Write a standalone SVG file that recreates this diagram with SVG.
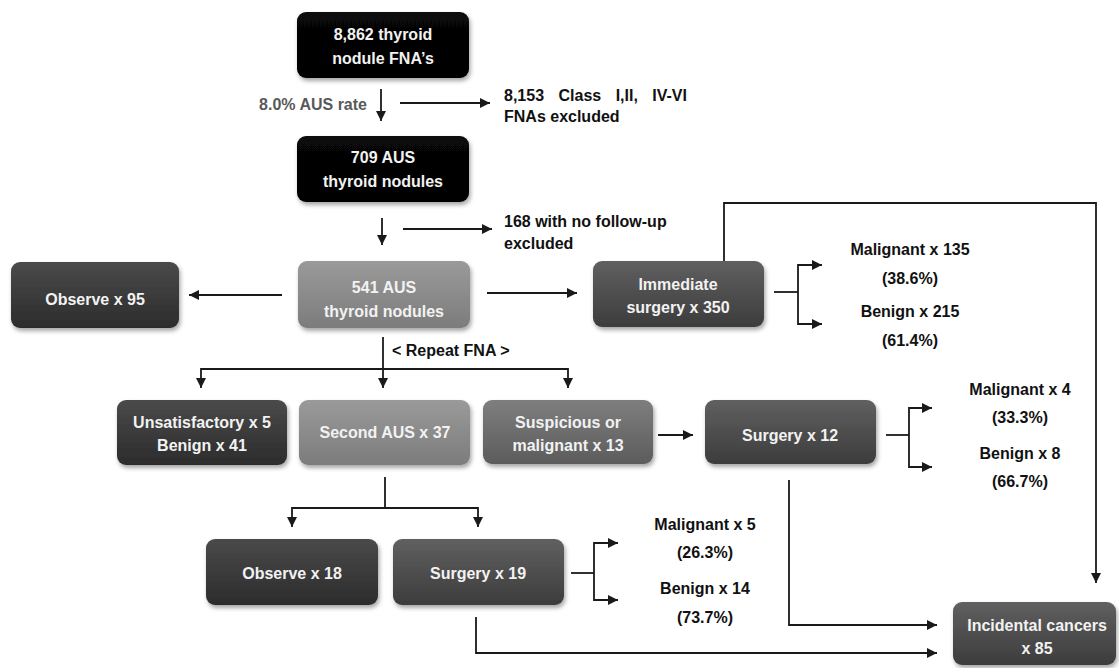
<svg xmlns="http://www.w3.org/2000/svg" width="1119" height="668" viewBox="0 0 1119 668">
<defs>
<style>
.bx{filter:url(#sh)}
.t{font-family:"Liberation Sans",Arial,sans-serif;font-weight:bold;font-size:16px;text-anchor:middle}
.w{fill:#f2f2f2}
.k{fill:#111}
.l{text-anchor:start}
.c{fill:none;stroke:#1a1a1a;stroke-width:1.8}
.a{marker-end:url(#ah)}
</style>
<filter id="sh" x="-10%" y="-10%" width="130%" height="140%">
<feDropShadow dx="1.5" dy="3" stdDeviation="2" flood-color="#000" flood-opacity="0.35"/>
</filter>
<marker id="ah" markerUnits="userSpaceOnUse" markerWidth="11" markerHeight="11" refX="10" refY="5" orient="auto">
<path d="M0,0 L10,5 L0,10 z" fill="#1a1a1a"/>
</marker>
<linearGradient id="gBlack" x1="0" y1="0" x2="0" y2="1"><stop offset="0" stop-color="#080808"/><stop offset="1" stop-color="#000"/></linearGradient>
<linearGradient id="gDark" x1="0" y1="0" x2="0" y2="1"><stop offset="0" stop-color="#4a4a4a"/><stop offset="1" stop-color="#2c2c2c"/></linearGradient>
<linearGradient id="gMid" x1="0" y1="0" x2="0" y2="1"><stop offset="0" stop-color="#606060"/><stop offset="1" stop-color="#3c3c3c"/></linearGradient>
<linearGradient id="gMed" x1="0" y1="0" x2="0" y2="1"><stop offset="0" stop-color="#7e7e7e"/><stop offset="1" stop-color="#5c5c5c"/></linearGradient>
<linearGradient id="gLight" x1="0" y1="0" x2="0" y2="1"><stop offset="0" stop-color="#9a9a9a"/><stop offset="1" stop-color="#7c7c7c"/></linearGradient>
</defs>
<rect width="1119" height="668" fill="#fff"/>

<g id="connectors">
<path class="c a" d="M381,89 V121"/>
<path class="c a" d="M400,103 H490"/>
<path class="c a" d="M382,218 V245"/>
<path class="c a" d="M403,229 H492"/>
<path class="c a" d="M282,295 H189"/>
<path class="c a" d="M487,293 H577"/>
<path class="c" d="M774,292 H798"/>
<path class="c a" d="M798,292 V265 H822"/>
<path class="c a" d="M798,292 V324 H822"/>
<path class="c a" d="M724,261 V203 H1096 V583"/>
<path class="c a" d="M383,337 V388"/>
<path class="c a" d="M383,369 H201 V388"/>
<path class="c a" d="M383,369 H568 V388"/>
<path class="c a" d="M658,435 H693"/>
<path class="c" d="M886,435 H909"/>
<path class="c a" d="M909,435 V408 H932"/>
<path class="c a" d="M909,435 V467 H932"/>
<path class="c" d="M385,477 V508"/>
<path class="c a" d="M385,508 H292 V527"/>
<path class="c a" d="M385,508 H478 V527"/>
<path class="c" d="M571,573 H594"/>
<path class="c a" d="M594,573 V543 H618"/>
<path class="c a" d="M594,573 V600 H618"/>
<path class="c a" d="M789,480 V625 H937"/>
<path class="c a" d="M476,617 V653 H937"/>
</g>

<g id="n-fna">
<rect class="bx" x="297" y="12" width="172" height="66" rx="9" fill="url(#gBlack)"/>
<text class="t w" x="383" y="40">8,862 thyroid</text>
<text class="t w" x="383" y="64">nodule FNA’s</text>
</g>
<g id="l-rate"><text class="t" x="367" y="110" fill="#595959" style="text-anchor:end">8.0% AUS rate</text></g>
<g id="l-excl1">
<text class="t k l" x="504" y="101" word-spacing="10">8,153 Class I,II, IV-VI</text>
<text class="t k l" x="504" y="122">FNAs excluded</text>
</g>
<g id="n-709">
<rect class="bx" x="297" y="136" width="172" height="66" rx="9" fill="url(#gBlack)"/>
<text class="t w" x="383" y="163">709 AUS</text>
<text class="t w" x="383" y="187">thyroid nodules</text>
</g>
<g id="l-excl2">
<text class="t k l" x="504" y="227">168 with no follow-up</text>
<text class="t k l" x="504" y="249">excluded</text>
</g>
<g id="n-obs95">
<rect class="bx" x="11" y="262" width="168" height="66" rx="9" fill="url(#gDark)"/>
<text class="t w" x="95" y="305">Observe x 95</text>
</g>
<g id="n-541">
<rect class="bx" x="298" y="261" width="172" height="67" rx="9" fill="url(#gLight)"/>
<text class="t w" x="384" y="293">541 AUS</text>
<text class="t w" x="384" y="317">thyroid nodules</text>
</g>
<g id="n-imm">
<rect class="bx" x="593" y="261" width="171" height="66" rx="9" fill="url(#gMid)"/>
<text class="t w" x="678" y="290">Immediate</text>
<text class="t w" x="678" y="313">surgery x 350</text>
</g>
<g id="l-imm">
<text class="t k" x="910" y="255">Malignant x 135</text>
<text class="t k" x="910" y="284">(38.6%)</text>
<text class="t k" x="910" y="317">Benign x 215</text>
<text class="t k" x="910" y="346">(61.4%)</text>
</g>
<g id="l-repeat"><text class="t k l" x="392" y="356">&lt; Repeat FNA &gt;</text></g>
<g id="n-unsat">
<rect class="bx" x="117" y="400" width="170" height="65" rx="9" fill="url(#gDark)"/>
<text class="t w" x="202" y="428">Unsatisfactory x 5</text>
<text class="t w" x="202" y="451">Benign x 41</text>
</g>
<g id="n-second">
<rect class="bx" x="299" y="400" width="171" height="65" rx="9" fill="url(#gLight)"/>
<text class="t w" x="385" y="438">Second AUS x 37</text>
</g>
<g id="n-susp">
<rect class="bx" x="483" y="400" width="170" height="64" rx="9" fill="url(#gMed)"/>
<text class="t w" x="568" y="428">Suspicious or</text>
<text class="t w" x="568" y="451">malignant x 13</text>
</g>
<g id="n-surg12">
<rect class="bx" x="705" y="400" width="171" height="64" rx="9" fill="url(#gMid)"/>
<text class="t w" x="790" y="441">Surgery x 12</text>
</g>
<g id="l-surg12">
<text class="t k" x="1020" y="395">Malignant x 4</text>
<text class="t k" x="1020" y="423">(33.3%)</text>
<text class="t k" x="1020" y="459">Benign x 8</text>
<text class="t k" x="1020" y="487">(66.7%)</text>
</g>
<g id="n-obs18">
<rect class="bx" x="206" y="539" width="172" height="66" rx="9" fill="url(#gDark)"/>
<text class="t w" x="292" y="579">Observe x 18</text>
</g>
<g id="n-surg19">
<rect class="bx" x="393" y="539" width="171" height="66" rx="9" fill="url(#gMid)"/>
<text class="t w" x="478" y="579">Surgery x 19</text>
</g>
<g id="l-surg19">
<text class="t k" x="705" y="530">Malignant x 5</text>
<text class="t k" x="705" y="558">(26.3%)</text>
<text class="t k" x="705" y="594">Benign x 14</text>
<text class="t k" x="705" y="623">(73.7%)</text>
</g>
<g id="n-incid">
<rect class="bx" x="953" y="602" width="163" height="63" rx="9" fill="url(#gMid)"/>
<text class="t w" x="1037" y="631">Incidental cancers</text>
<text class="t w" x="1037" y="654">x 85</text>
</g>
</svg>
